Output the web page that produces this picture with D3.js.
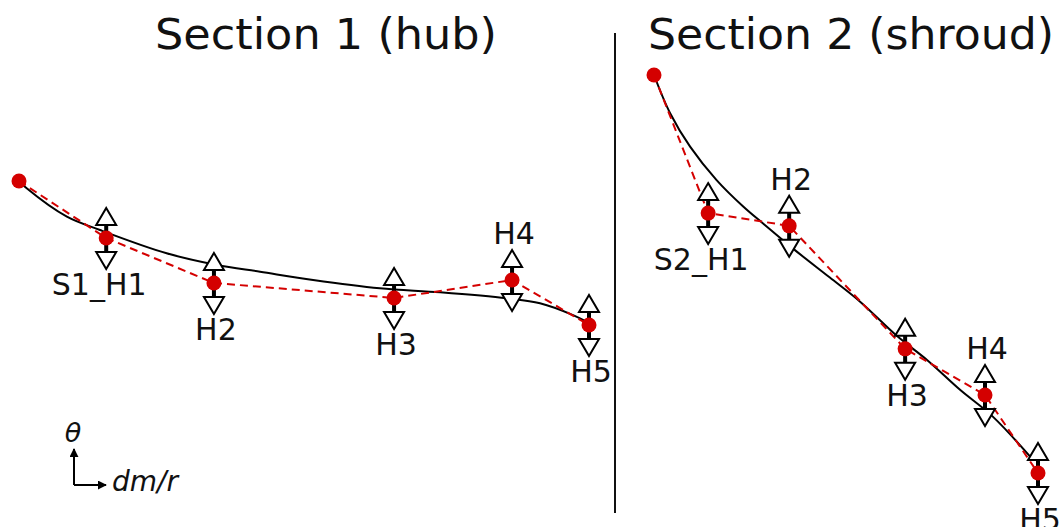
<!DOCTYPE html>
<html>
<head>
<meta charset="utf-8">
<script src="https://cdn.jsdelivr.net/npm/d3@7"></script>
<style>
  body { margin: 0; background: #fff; }
  text { font-family: "DejaVu Sans", Verdana, sans-serif; fill: #111; }
</style>
</head>
<body>
<div id="container"></div>
<script>
let w = 1064;
let h = 527;

// ---- data (normalised dm/r and theta per section) ----
let labels1 = ["", "S1_H1", "H2", "H3", "H4", "H5"];
let dmr1 = [0, 0.153, 0.342, 0.658, 0.865, 1.0];
let theta1 = [1.0, 0.604, 0.292, 0.1875, 0.3125, 0.0];
let side1 = ["", "below", "below", "below", "above", "below"];
// smooth reference curve, section 1
let curveDmr1 = [0, 0.0135, 0.084, 0.142, 0.259, 0.347, 0.423, 0.516, 0.633, 0.739, 0.856, 0.914, 0.972, 0.993];
let curveTheta1 = [1.0, 0.949, 0.752, 0.660, 0.498, 0.417, 0.370, 0.3125, 0.255, 0.227, 0.185, 0.151, 0.069, 0.028];

let labels2 = ["", "S2_H1", "H2", "H3", "H4", "H5"];
let dmr2 = [0, 0.141, 0.352, 0.654, 0.862, 1.0];
let theta2 = [1.0, 0.653, 0.621, 0.312, 0.196, 0.0];
let side2 = ["", "below", "above", "below", "above", "below"];
let curveDmr2 = [0, 0.042, 0.094, 0.163, 0.233, 0.284, 0.367, 0.458, 0.536, 0.633, 0.711, 0.797, 0.883, 0.987];
let curveTheta2 = [1.0, 0.904, 0.820, 0.736, 0.669, 0.627, 0.560, 0.491, 0.431, 0.344, 0.284, 0.209, 0.141, 0.033];

let titles = ["Section 1 (hub)", "Section 2 (shroud)"];

let viz = d3.select("#container")
  .append("svg")
    .attr("width", w)
    .attr("height", h)
    .style("background-color", "white");

let red = "#d40000";

function drawSection(opts){
  let xScale = d3.scaleLinear().domain([0, 1]).range(opts.xRange);
  let yScale = d3.scaleLinear().domain([0, 1]).range(opts.yRange);

  let pts = opts.dmr.map((d, i) => ({x: d, t: opts.theta[i], label: opts.labels[i], side: opts.side[i]}));
  let curvePts = opts.curveDmr.map((d, i) => ({x: d, t: opts.curveTheta[i]}));

  let g = viz.append("g").attr("class", "section");

  // black smooth curve
  let smooth = d3.line()
    .x(d => xScale(d.x))
    .y(d => yScale(d.t))
    .curve(d3.curveCatmullRom.alpha(0.5));
  g.append("path")
    .datum(curvePts)
    .attr("d", smooth)
    .attr("fill", "none")
    .attr("stroke", "#000")
    .attr("stroke-width", 2);

  // red dashed polyline
  let straight = d3.line().x(d => xScale(d.x)).y(d => yScale(d.t));
  g.append("path")
    .datum(pts)
    .attr("d", straight)
    .attr("fill", "none")
    .attr("stroke", red)
    .attr("stroke-width", 2)
    .attr("stroke-dasharray", "8,5");

  // control point handles (not on the first point)
  let handles = g.selectAll(".handle").data(pts.slice(1)).enter()
    .append("g")
    .attr("class", "handle")
    .attr("transform", d => "translate(" + xScale(d.x) + "," + yScale(d.t) + ")");

  handles.append("line")
    .attr("x1", 0).attr("x2", 0)
    .attr("y1", -13).attr("y2", 14)
    .attr("stroke", "#000")
    .attr("stroke-width", 4);
  handles.append("path")
    .attr("d", "M0,-30 L10,-13 L-10,-13 Z")
    .attr("fill", "#fff").attr("stroke", "#000").attr("stroke-width", 2);
  handles.append("path")
    .attr("d", "M0,31 L10,14 L-10,14 Z")
    .attr("fill", "#fff").attr("stroke", "#000").attr("stroke-width", 2);

  handles.append("text")
    .attr("x", d => d.label.length > 2 ? -7 : 2)
    .attr("y", d => d.side == "above" ? -36 : 57)
    .attr("text-anchor", "middle")
    .attr("font-size", 30)
    .text(d => d.label);

  // red dots on top
  g.selectAll(".dot").data(pts).enter()
    .append("circle")
    .attr("class", "dot")
    .attr("cx", d => xScale(d.x))
    .attr("cy", d => yScale(d.t))
    .attr("r", 7.5)
    .attr("fill", red);

  g.append("text")
    .attr("x", opts.titleX)
    .attr("y", 49)
    .attr("font-size", 43)
    .attr("textLength", opts.titleLen)
    .attr("lengthAdjust", "spacingAndGlyphs")
    .text(opts.title);
}

drawSection({
  dmr: dmr1, theta: theta1, labels: labels1, side: side1,
  curveDmr: curveDmr1, curveTheta: curveTheta1,
  xRange: [19, 589], yRange: [325, 181],
  title: titles[0], titleX: 155, titleLen: 342
});
drawSection({
  dmr: dmr2, theta: theta2, labels: labels2, side: side2,
  curveDmr: curveDmr2, curveTheta: curveTheta2,
  xRange: [654, 1038], yRange: [473, 75],
  title: titles[1], titleX: 648, titleLen: 406
});

// divider
viz.append("line")
  .attr("x1", 615).attr("x2", 615)
  .attr("y1", 33).attr("y2", 513)
  .attr("stroke", "#111").attr("stroke-width", 2);

// axis indicator
let defs = viz.append("defs");
defs.append("marker")
  .attr("id", "arrow")
  .attr("viewBox", "0 0 10 10")
  .attr("refX", 9).attr("refY", 5)
  .attr("markerWidth", 4.5).attr("markerHeight", 4.5)
  .attr("orient", "auto")
  .append("path").attr("d", "M0,0 L10,5 L0,10 Z").attr("fill", "#000");

let ind = viz.append("g").attr("class", "indicator");
ind.append("path")
  .attr("d", "M74,485 L74,449")
  .attr("stroke", "#000").attr("stroke-width", 2).attr("fill", "none")
  .attr("marker-end", "url(#arrow)");
ind.append("path")
  .attr("d", "M74,485 L106,485")
  .attr("stroke", "#000").attr("stroke-width", 2).attr("fill", "none")
  .attr("marker-end", "url(#arrow)");
ind.append("text")
  .attr("x", 73).attr("y", 442)
  .attr("text-anchor", "middle")
  .attr("font-size", 27).attr("font-style", "italic")
  .text("θ");
ind.append("text")
  .attr("x", 112).attr("y", 491)
  .attr("font-size", 28).attr("font-style", "italic")
  .text("dm/r");
</script>
</body>
</html>
